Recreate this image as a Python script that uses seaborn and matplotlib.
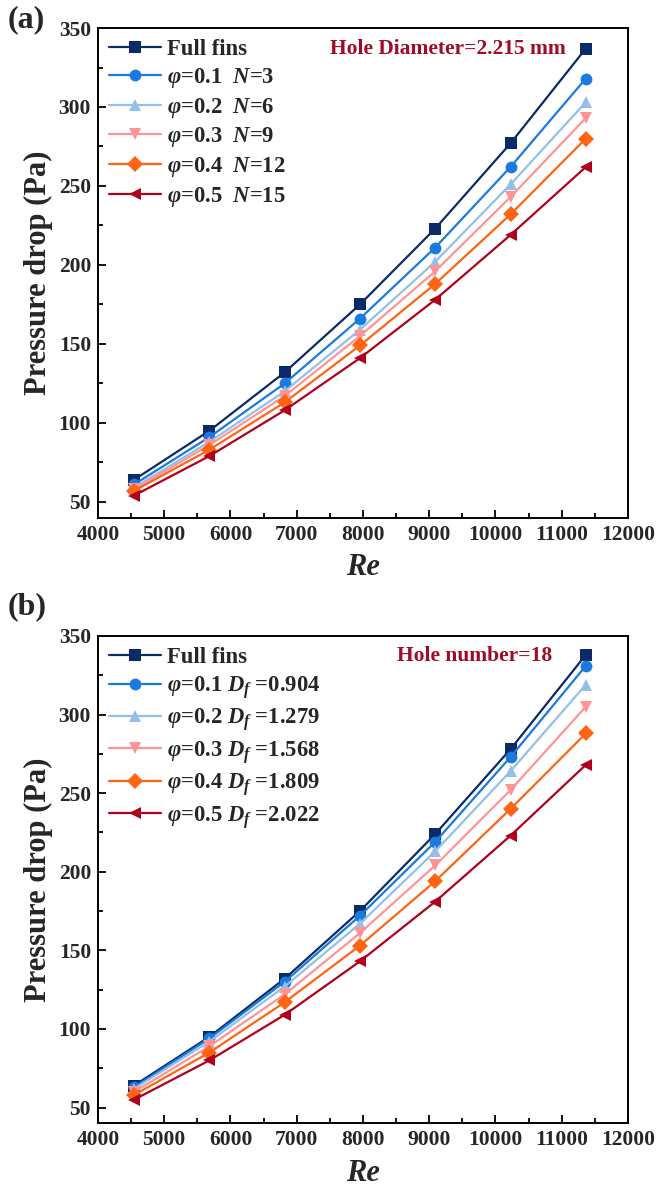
import numpy as np
import pandas as pd
import matplotlib
matplotlib.use("Agg")
import matplotlib.pyplot as plt
import seaborn as sns
from matplotlib.ticker import MultipleLocator

sns.set_theme(style="white")
plt.rcParams['font.family'] = ['Liberation Serif', 'DejaVu Serif']
plt.rcParams['font.weight'] = 'bold'
plt.rcParams['mathtext.fontset'] = 'custom'
plt.rcParams['mathtext.rm'] = 'Liberation Serif:bold'
plt.rcParams['mathtext.it'] = 'Liberation Serif:italic:bold'
plt.rcParams['mathtext.bf'] = 'Liberation Serif:bold'

# ---------------- data ----------------
re_vals = [4545, 5682, 6818, 7954, 9090, 10227, 11363]

full_a = [64, 95, 132, 175, 223, 277, 337]
p1_a = [61, 91, 125, 166, 211, 262, 318]
p2_a = [59, 88, 120, 159, 202, 251, 303]
p3_a = [58, 86, 117, 155, 196, 243, 293]
p4_a = [57, 83, 113, 149, 188, 232, 280]
p5_a = [54, 79, 108, 141, 178, 219, 262]

full_b = [64, 95, 132, 175, 224, 278, 338]
p1_b = [63, 94, 130, 172, 219, 273, 331]
p2_b = [62, 92, 127, 167, 213, 264, 319]
p3_b = [60, 89, 122, 161, 204, 252, 305]
p4_b = [58, 85, 117, 153, 194, 240, 288]
p5_b = [55, 80, 109, 143, 181, 223, 268]

labels_a = ['Full fins',
            r'$\varphi$=0.1  $N$=3',
            r'$\varphi$=0.2  $N$=6',
            r'$\varphi$=0.3  $N$=9',
            r'$\varphi$=0.4  $N$=12',
            r'$\varphi$=0.5  $N$=15']
labels_b = ['Full fins',
            r'$\varphi$=0.1 $D_f$ =0.904',
            r'$\varphi$=0.2 $D_f$ =1.279',
            r'$\varphi$=0.3 $D_f$ =1.568',
            r'$\varphi$=0.4 $D_f$ =1.809',
            r'$\varphi$=0.5 $D_f$ =2.022']

y_ticks = [50, 100, 150, 200, 250, 300, 350]

colors = ['#0a2a68', '#1a7ae0', '#94c0e8', '#ff9494', '#ff6414', '#b0001c']
markers = ['s', 'o', '^', 'v', 'D', '<']
anno_color = '#a00c28'


def make_df(series, labels):
    rows = []
    for lab, vals in zip(labels, series):
        for x, y in zip(re_vals, vals):
            rows.append({'Re': x, 'dp': y, 'series': lab})
    return pd.DataFrame(rows)


fig = plt.figure(figsize=(6.58, 11.87), dpi=100)
ax_a = fig.add_axes([0.1489, 0.5639, 0.8055, 0.4125])
ax_b = fig.add_axes([0.1489, 0.0537, 0.8055, 0.4105])

panels = [
    (ax_a, [full_a, p1_a, p2_a, p3_a, p4_a, p5_a], labels_a,
     'Hole Diameter=2.215 mm', (0.438, 0.957), '(a)', 0.983),
    (ax_b, [full_b, p1_b, p2_b, p3_b, p4_b, p5_b], labels_b,
     'Hole number=18', (0.564, 0.959), '(b)', 0.489),
]

for ax, series, labels, anno, anno_pos, tag, tag_y in panels:
    df = make_df(series, labels)
    sns.lineplot(data=df, x='Re', y='dp', hue='series', style='series',
                 hue_order=labels, style_order=labels,
                 palette=colors, markers=markers, dashes=False,
                 markersize=8.5, linewidth=1.6, markeredgewidth=0,
                 ax=ax, legend=True)
    ax.set_xlim(4000, 12000)
    ax.set_ylim(40, 350)
    ax.xaxis.set_major_locator(MultipleLocator(1000))
    ax.xaxis.set_minor_locator(MultipleLocator(500))
    ax.yaxis.set_ticks(y_ticks)
    ax.yaxis.set_minor_locator(MultipleLocator(25))
    ax.tick_params(which='both', direction='in', top=False, right=False,
                   bottom=True, left=True, labelsize=15.5, width=1.3,
                   color='black', pad=5)
    ax.tick_params(which='major', length=6)
    ax.tick_params(which='minor', length=3.5)
    for lab in ax.get_xticklabels() + ax.get_yticklabels():
        lab.set_fontweight('bold')
    for sp in ax.spines.values():
        sp.set_color('black')
        sp.set_linewidth(1.4)
    ax.set_xlabel('Re', fontsize=22, fontweight='bold', fontstyle='italic', labelpad=6)
    ax.set_ylabel('Pressure drop (Pa)', fontsize=22, fontweight='bold', labelpad=4)

    handles, labs = ax.get_legend_handles_labels()
    ax.legend(handles, labs, loc='upper left', bbox_to_anchor=(0.0, 1.0),
              frameon=False, prop={'size': 16.3, 'weight': 'bold'},
              handlelength=2.3, handletextpad=0.25, labelspacing=0.25,
              borderaxespad=0.3, borderpad=0.2)
    ax.text(anno_pos[0], anno_pos[1], anno, transform=ax.transAxes,
            ha='left', va='center', fontsize=15.5, fontweight='bold',
            color=anno_color)
    fig.text(0.012, tag_y, tag, ha='left', va='center', fontsize=23,
             fontweight='bold')

fig.savefig('out.png', dpi=100)
